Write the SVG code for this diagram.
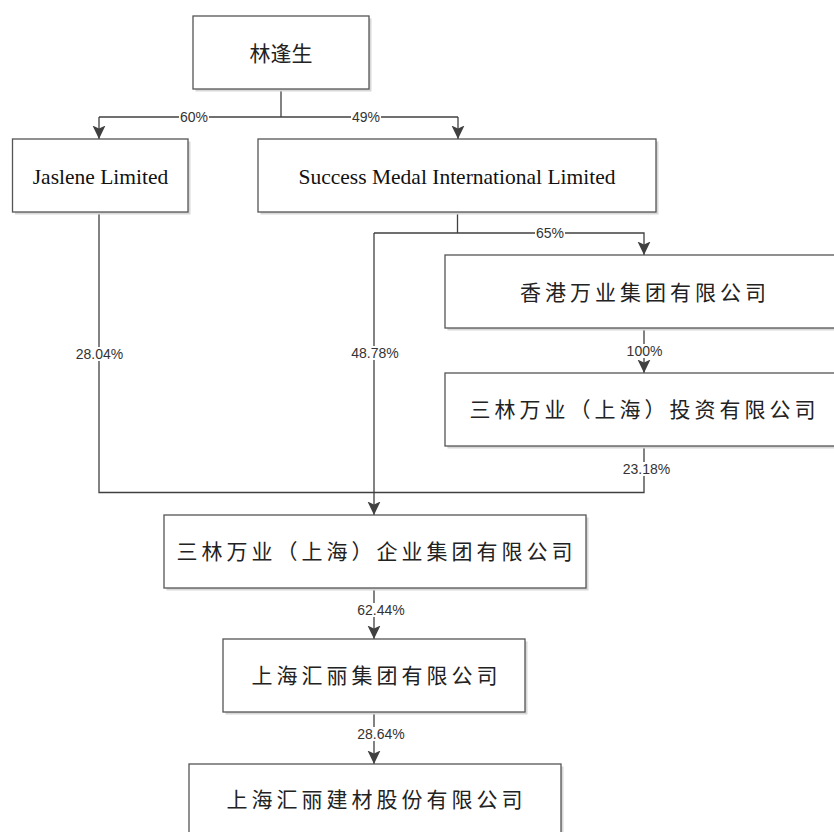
<svg xmlns="http://www.w3.org/2000/svg" width="834" height="832" viewBox="0 0 834 832">
<defs>
<marker id="arr" markerUnits="userSpaceOnUse" markerWidth="14" markerHeight="14" viewBox="0 0 14 14" refX="13.5" refY="7" orient="auto">
<path d="M0,0.5 L13.5,7 L0,13.5 L3,7 Z" fill="#404040"/>
</marker>
</defs>
<style>
.box{fill:#ffffff;stroke:#555555;stroke-width:1.3}
.sh{fill:#d8d8d8}
.cn{font-family:"Noto Sans CJK SC","Noto Sans CJK TC",sans-serif;font-size:21px;fill:#222222;text-anchor:middle;letter-spacing:4px}
.en{font-family:"Liberation Serif","Times New Roman",serif;font-size:21.5px;fill:#111111;text-anchor:middle}
.ln{fill:none;stroke:#404040;stroke-width:1.3}
.lb{font-family:"Liberation Sans",Arial,sans-serif;font-size:14px;fill:#333333;text-anchor:middle}
.bg{fill:#ffffff}
</style>
<rect width="834" height="832" fill="#ffffff"/>
<g id="connectors">
<polyline class="ln" points="281,89 281,117"/>
<polyline class="ln" points="99,117 458,117"/>
<polyline class="ln" points="99,117 99,139" marker-end="url(#arr)"/>
<polyline class="ln" points="458,117 458,139" marker-end="url(#arr)"/>
<polyline class="ln" points="457.5,212 457.5,233"/>
<polyline class="ln" points="374,233 644,233 644,255" marker-end="url(#arr)"/>
<polyline class="ln" points="374,233 374,515" marker-end="url(#arr)"/>
<polyline class="ln" points="644,328 644,373" marker-end="url(#arr)"/>
<polyline class="ln" points="99,212 99,492.5 644,492.5 644,446"/>
<polyline class="ln" points="374,588 374,639" marker-end="url(#arr)"/>
<polyline class="ln" points="374,712 374,764" marker-end="url(#arr)"/>
<rect class="bg" x="179" y="111" width="30" height="13"/>
<text class="lb" x="194" y="122">60%</text>
<rect class="bg" x="351" y="111" width="30" height="13"/>
<text class="lb" x="366" y="122">49%</text>
<rect class="bg" x="535" y="227" width="30" height="13"/>
<text class="lb" x="550" y="238">65%</text>
<rect class="bg" x="625" y="344" width="39" height="14"/>
<text class="lb" x="644.5" y="356">100%</text>
<rect class="bg" x="621" y="462" width="51" height="14"/>
<text class="lb" x="646.5" y="474">23.18%</text>
<rect class="bg" x="74" y="347" width="51" height="14"/>
<text class="lb" x="99.5" y="359">28.04%</text>
<rect class="bg" x="349.5" y="346" width="51" height="14"/>
<text class="lb" x="375" y="358">48.78%</text>
<rect class="bg" x="355.5" y="603" width="51" height="14"/>
<text class="lb" x="381" y="615">62.44%</text>
<rect class="bg" x="355.5" y="727" width="51" height="14"/>
<text class="lb" x="381" y="739">28.64%</text>
</g>
<g id="n1">
<rect class="sh" x="195.5" y="18.5" width="176" height="73"/>
<rect class="box" x="193" y="16" width="176" height="73"/>
<text class="cn" x="281" y="61" style="letter-spacing:0px">林逢生</text>
</g>
<g id="n2">
<rect class="sh" x="15" y="141.5" width="175.5" height="73"/>
<rect class="box" x="12.5" y="139" width="175.5" height="73"/>
<text class="en" x="100.5" y="183.5">Jaslene Limited</text>
</g>
<g id="n3">
<rect class="sh" x="260.5" y="141.5" width="398" height="73"/>
<rect class="box" x="258" y="139" width="398" height="73"/>
<text class="en" x="457" y="183.5">Success Medal International Limited</text>
</g>
<g id="n4">
<rect class="sh" x="447.5" y="257.5" width="395" height="73"/>
<rect class="box" x="445" y="255" width="395" height="73"/>
<text class="cn" x="645" y="299.5">香港万业集团有限公司</text>
</g>
<g id="n5">
<rect class="sh" x="447.5" y="375.5" width="395" height="73"/>
<rect class="box" x="445" y="373" width="395" height="73"/>
<text class="cn" x="644.5" y="417">三林万业（上海）投资有限公司</text>
</g>
<g id="n6">
<rect class="sh" x="166.5" y="517.5" width="422" height="73"/>
<rect class="box" x="164" y="515" width="422" height="73"/>
<text class="cn" x="376.5" y="559">三林万业（上海）企业集团有限公司</text>
</g>
<g id="n7">
<rect class="sh" x="225.5" y="641.5" width="302" height="73"/>
<rect class="box" x="223" y="639" width="302" height="73"/>
<text class="cn" x="376.5" y="683">上海汇丽集团有限公司</text>
</g>
<g id="n8">
<rect class="sh" x="191.5" y="766.5" width="372" height="80"/>
<rect class="box" x="189" y="764" width="372" height="80"/>
<text class="cn" x="376.5" y="807">上海汇丽建材股份有限公司</text>
</g>
</svg>
